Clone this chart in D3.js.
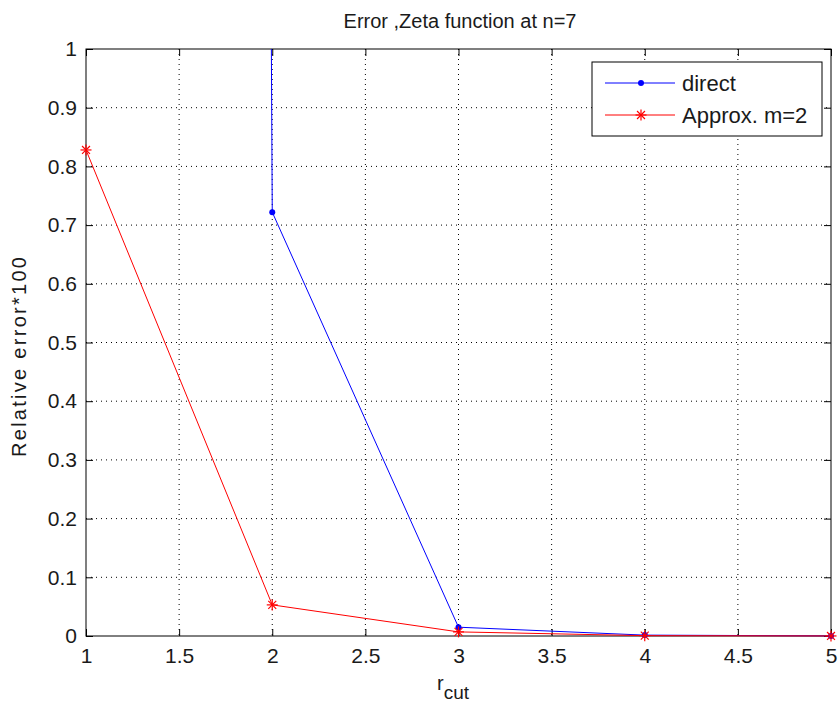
<!DOCTYPE html>
<html><head><meta charset="utf-8">
<script src="https://cdn.jsdelivr.net/npm/d3@7"></script>
<style>body{margin:0;background:#fff;} text{font-family:"Liberation Sans",Arial,sans-serif;}</style>
</head><body>
<svg id="c" width="838" height="707"></svg>
<script>
const rcut = [1, 2, 3, 4, 5];
const directErr = [60, 0.722, 0.015, 0.0015, 0.0002];
const approxErr = [0.828, 0.053, 0.007, 0.0006, 0.0001];
const xTicks = [1, 1.5, 2, 2.5, 3, 3.5, 4, 4.5, 5];
const yTicks = [0, 0.1, 0.2, 0.3, 0.4, 0.5, 0.6, 0.7, 0.8, 0.9, 1];
const seriesNames = ["direct", "Approx. m=2"];

const svg = d3.select("#c");
const L = 86, R = 831, T = 49, B = 636;
const x = d3.scaleLinear().domain([1, 5]).range([L, R]);
const y = d3.scaleLinear().domain([0, 1]).range([B, T]);
const FONT = "'Liberation Sans',Arial,sans-serif";
const TXT = "#1a1a1a";

svg.append("rect").attr("width", 838).attr("height", 707).attr("fill", "#fff");

// grid
const g = svg.append("g");
g.selectAll(".gx").data(xTicks.slice(1, -1)).join("line")
  .attr("x1", d => x(d)).attr("x2", d => x(d)).attr("y1", T).attr("y2", B)
  .attr("stroke", "#000").attr("stroke-width", 1).attr("stroke-dasharray", "1,4");
g.selectAll(".gy").data(yTicks.slice(1, -1)).join("line")
  .attr("y1", d => y(d)).attr("y2", d => y(d)).attr("x1", L).attr("x2", R)
  .attr("stroke", "#000").attr("stroke-width", 1).attr("stroke-dasharray", "1,4");

// axes
const tickLen = 7;
const ax = svg.append("g").attr("transform", `translate(0,${B})`)
  .call(d3.axisBottom(x).tickValues(xTicks).tickSizeInner(-tickLen).tickSizeOuter(0).tickPadding(12).tickFormat(d3.format("")));
const axT = svg.append("g").attr("transform", `translate(0,${T})`)
  .call(d3.axisTop(x).tickValues(xTicks).tickSizeInner(-tickLen).tickSizeOuter(0).tickFormat(""));
const ay = svg.append("g").attr("transform", `translate(${L},0)`)
  .call(d3.axisLeft(y).tickValues(yTicks).tickSizeInner(-tickLen).tickSizeOuter(0).tickPadding(9).tickFormat(d3.format("")));
const ayR = svg.append("g").attr("transform", `translate(${R},0)`)
  .call(d3.axisRight(y).tickValues(yTicks).tickSizeInner(-tickLen).tickSizeOuter(0).tickFormat(""));
[ax, axT, ay, ayR].forEach(a => {
  a.select(".domain").remove();
  a.selectAll("line").attr("stroke", "#000");
  a.selectAll("text").attr("font-size", 21).attr("fill", TXT).attr("font-family", FONT);
});
svg.append("rect").attr("x", L).attr("y", T).attr("width", R - L).attr("height", B - T)
  .attr("fill", "none").attr("stroke", "#000").attr("stroke-width", 1);

// clip
svg.append("clipPath").attr("id", "clip").append("rect")
  .attr("x", L - 6).attr("y", T).attr("width", R - L + 12).attr("height", B - T + 6);
const plot = svg.append("g").attr("clip-path", "url(#clip)");
const line = d3.line().x((d, i) => x(rcut[i])).y(d => y(d));

plot.append("path").datum(directErr).attr("d", line).attr("fill", "none")
  .attr("stroke", "#0000ff").attr("stroke-width", 1);
plot.append("path").datum(approxErr).attr("d", line).attr("fill", "none")
  .attr("stroke", "#ff0000").attr("stroke-width", 1);

plot.selectAll(".dm").data(directErr).join("circle")
  .attr("cx", (d, i) => x(rcut[i])).attr("cy", d => y(d)).attr("r", 3).attr("fill", "#0000ff");

function star(sel, cx, cy, s, color) {
  const gg = sel.append("g").attr("transform", `translate(${cx},${cy})`).attr("stroke", color).attr("stroke-width", 1.2);
  gg.append("line").attr("x1", -s).attr("x2", s).attr("y1", 0).attr("y2", 0);
  gg.append("line").attr("y1", -s).attr("y2", s).attr("x1", 0).attr("x2", 0);
  const k = s * 0.72;
  gg.append("line").attr("x1", -k).attr("x2", k).attr("y1", -k).attr("y2", k);
  gg.append("line").attr("x1", -k).attr("x2", k).attr("y1", k).attr("y2", -k);
}
approxErr.forEach((d, i) => star(plot, x(rcut[i]), y(d), 5.5, "#ff0000"));

// legend
const lg = svg.append("g");
const lx = 592, ly = 62, lw = 230, lh = 74;
lg.append("rect").attr("x", lx).attr("y", ly).attr("width", lw).attr("height", lh)
  .attr("fill", "#fff").attr("stroke", "#000").attr("stroke-width", 1);
const rows = [ly + 21, ly + 53];
lg.append("line").attr("x1", lx + 13).attr("x2", lx + 83).attr("y1", rows[0]).attr("y2", rows[0]).attr("stroke", "#0000ff");
lg.append("circle").attr("cx", lx + 49).attr("cy", rows[0]).attr("r", 3).attr("fill", "#0000ff");
lg.append("line").attr("x1", lx + 13).attr("x2", lx + 83).attr("y1", rows[1]).attr("y2", rows[1]).attr("stroke", "#ff0000");
star(lg, lx + 49, rows[1], 5.5, "#ff0000");
lg.selectAll(".lt").data(seriesNames).join("text")
  .attr("x", lx + 90).attr("y", (d, i) => rows[i]).attr("dy", "0.35em")
  .attr("font-size", 22).attr("fill", TXT).text(d => d);

// title & labels
svg.append("text").attr("x", 460).attr("y", 28).attr("text-anchor", "middle")
  .attr("font-size", 20).attr("fill", TXT).text("Error ,Zeta function at n=7");
const xl = svg.append("text").attr("x", 453).attr("y", 690).attr("text-anchor", "middle")
  .attr("font-size", 20).attr("fill", TXT);
xl.append("tspan").text("r");
xl.append("tspan").attr("dy", 9).attr("font-size", 19).text("cut");
svg.append("text").attr("transform", `translate(26,357) rotate(-90)`).attr("text-anchor", "middle")
  .attr("font-size", 20).attr("fill", TXT).attr("textLength", 200).attr("lengthAdjust", "spacing")
  .text("Relative error*100");
</script>
</body></html>
